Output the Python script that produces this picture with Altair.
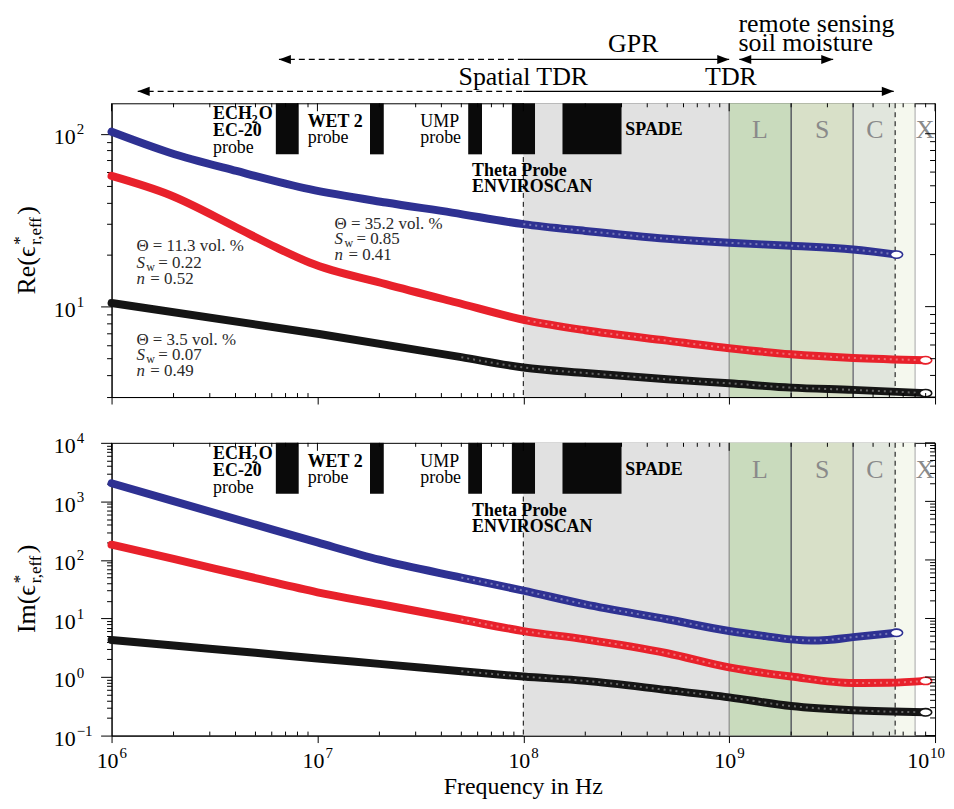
import altair as alt
import pandas as pd

FONT = "Liberation Serif"
W = 827
H_TOP = 295
H_BOT = 294

# ---------------- data ----------------
series = ["35.2", "11.3", "3.5"]
series_colors = ["#2e3192", "#e8212b", "#151515"]

blue_re_f = [1e6, 1.92e6, 4.04e6, 9.14e6, 2.15e7, 4.51e7, 1e8, 2e8, 5e8, 1e9, 2e9, 4e9, 6.5e9]
blue_re_v = [102.7, 77.7, 60.9, 47.8, 40.0, 35.0, 30.0, 27.4, 24.7, 23.4, 22.5, 21.4, 20.0]
red_re_f = [1e6, 1.92e6, 4.04e6, 6.3e6, 9.14e6, 2.15e7, 4.68e7, 1.05e8, 2e8, 5e8, 1e9, 2e9, 4e9, 9e9]
red_re_v = [57.0, 44.2, 28.7, 22.0, 18.0, 13.5, 10.6, 8.3, 7.3, 6.36, 5.75, 5.3, 5.05, 4.9]
black_re_f = [1e6, 1.02e7, 5e7, 1e8, 2e8, 5e8, 1e9, 2e9, 4e9, 9e9]
black_re_v = [10.5, 6.95, 5.1, 4.45, 4.13, 3.8, 3.6, 3.4, 3.3, 3.16]

blue_im_f = [1e6, 2e6, 5e6, 1e7, 2e7, 5e7, 1e8, 2e8, 5e8, 1e9, 1.5e9, 2e9, 2.5e9, 3e9, 4e9, 6.5e9]
blue_im_v = [2040, 1010, 400, 199, 101, 50, 30, 17.4, 9.7, 6.1, 5.0, 4.4, 4.2, 4.3, 4.8, 5.7]
red_im_f = [1e6, 2e6, 5e6, 1e7, 2e7, 5e7, 1e8, 2e8, 5e8, 1e9, 2e9, 4e9, 6e9, 9e9]
red_im_v = [182, 104, 49, 28, 17.7, 9.6, 6.1, 4.4, 2.55, 1.46, 1.02, 0.79, 0.8, 0.86]
black_im_f = [1e6, 2e6, 5e6, 1e7, 2e7, 5e7, 1e8, 2e8, 5e8, 1e9, 2e9, 4e9, 9e9]
black_im_v = [4.3, 3.45, 2.6, 2.07, 1.68, 1.26, 1.02, 0.86, 0.6, 0.45, 0.32, 0.27, 0.25]

# frequency bands (gray = TDR range, L, S, C band, rest of C band)
band_lo = [1e8, 1e9, 2e9, 4e9, 6.4e9]
band_hi = [1e9, 2e9, 4e9, 6.4e9, 8e9]
band_fill = ["#e1e1e1", "#c9dbbd", "#d8e0c8", "#e1e6dd", "#f5f8ee"]
edge_f = [1e9, 2e9, 4e9, 8e9]
edge_col = ["#8c8c8c", "#3a3a48", "#5a5a66", "#b4b4b4"]
dashed_f = [1e8, 6.4e9]
band_label = ["L", "S", "C", "X"]
band_label_f = [1.41e9, 2.83e9, 5.1e9, 8.95e9]
band_label_re = 105
band_label_im = 3436

# probe frequency bars
probe_lo = [6.28e6, 1.8e7, 5.4e7, 8.8e7, 1.55e8]
probe_hi = [8.11e6, 2.1e7, 6.3e7, 1.14e8, 3.0e8]
bar_re = [76, 150]
bar_im = [1350, 1e4]

probe_text = ["ECH", "EC-20", "probe", "WET 2", "probe", "UMP", "probe",
              "Theta Probe", "ENVIROSCAN", "SPADE"]
probe_bold = [True, True, False, True, False, False, False, True, True, True]
probe_f = [3.11e6, 3.11e6, 3.11e6, 8.97e6, 8.97e6, 3.16e7, 3.16e7, 5.64e7, 5.64e7, 3.13e8]
probe_re = [130, 103.6, 82.7, 116.8, 94.4, 116.8, 94.4, 60.9, 49.3, 105]
probe_im = [6427, 3305, 1700, 4700, 2513, 4700, 2513, 689, 368, 3436]
ech_sub = "2"
ech_tail = "O"

# sample annotations (upper panel)
ann_theta = ["Θ = 11.3 vol. %", "Θ = 3.5 vol. %", "Θ = 35.2 vol. %"]
ann_sw = ["= 0.22", "= 0.07", "= 0.85"]
ann_n = ["= 0.52", "= 0.49", "= 0.41"]
ann_f = [1.32e6, 1.32e6, 1.21e7]
ann_y_theta = [22.5, 6.45, 30.1]
ann_y_sw = [17.9, 5.22, 24.7]
ann_y_n = [14.5, 4.27, 19.95]

# method ranges (arrows on top)
arrow_spatial_tdr = [1.34e6, 1e8]
arrow_tdr = [1e8, 6.3e9]
arrow_gpr_dashed = [6.5e6, 1e8]
arrow_gpr = [1e8, 1e9]
arrow_remote = [1.12e9, 3.2e9]

# tick labels
x_dec = [1e6, 1e7, 1e8, 1e9]
x_sup = ["6", "7", "8", "9"]
x_last = [1e10]
x_last_sup = ["10"]
re_dec = [10, 100]
re_sup = ["1", "2"]
im_dec = [0.1, 1, 10, 100, 1000, 10000]
im_sup = ["−1", "0", "1", "2", "3", "4"]

x_major = [1e6, 1e7, 1e8, 1e9, 1e10]
x_minor = [m * 10 ** e for e in range(6, 10) for m in range(2, 10)]
re_major = [10, 100]
re_minor = [3, 4, 5, 6, 7, 8, 9] + [m * 10 for m in range(2, 10)]
im_major = [0.1, 1, 10, 100, 1000, 10000]
im_minor = [m * 10.0 ** e for e in range(-1, 4) for m in range(2, 10)]

# ---------------- helpers ----------------
MAJOR = "abs(log(datum.value)/LN10 - round(log(datum.value)/LN10)) < 0.001"
x_scale = alt.Scale(type="log", domain=[1e6, 1e10], nice=False)
re_scale = alt.Scale(type="log", domain=[3, 150], nice=False)
im_scale = alt.Scale(type="log", domain=[0.1, 1e4], nice=False)
color_scale = alt.Scale(domain=series, range=series_colors)


def line_df(fs, vs):
    rows = []
    for s, f, v in zip(series, fs, vs):
        for a, b in zip(f, v):
            rows.append({"f": a, "v": b, "s": s})
    return pd.DataFrame(rows)


def panel(kind):
    is_re = kind == "re"
    H = H_TOP if is_re else H_BOT
    ysc = re_scale if is_re else im_scale
    ymaj, ymin = (re_major, re_minor) if is_re else (im_major, im_minor)
    xax = alt.Axis(values=x_major, labels=False, grid=False, title=None, tickSize=7,
                   tickColor="black", domainColor="black", tickWidth=1, domainWidth=1)
    yax = alt.Axis(values=ymaj + ymin, labels=False, grid=False, title=None,
                   tickSize={"condition": {"test": MAJOR, "value": 11}, "value": 5},
                   tickColor="black", domainColor="black", tickWidth=1, domainWidth=1)

    def X(field):
        return alt.X(field, type="quantitative", scale=x_scale, axis=xax)

    def Y(field):
        return alt.Y(field, type="quantitative", scale=ysc, axis=yax)

    layers = []
    bands = pd.DataFrame({"lo": band_lo, "hi": band_hi, "c": band_fill})
    layers.append(alt.Chart(bands).mark_rect().encode(
        x=X("lo"), x2="hi", color=alt.Color("c:N", scale=None)))
    edges = pd.DataFrame({"f": edge_f, "c": edge_col})
    layers.append(alt.Chart(edges).mark_rule(strokeWidth=1.2).encode(
        x=X("f"), color=alt.Color("c:N", scale=None)))
    layers.append(alt.Chart(pd.DataFrame({"f": dashed_f})).mark_rule(
        color="black", strokeWidth=1, strokeDash=[5, 4]).encode(x=X("f")))

    bl, bh = (bar_re if is_re else bar_im)
    bars = pd.DataFrame({"lo": probe_lo, "hi": probe_hi,
                         "ylo": [bl] * len(probe_lo), "yhi": [bh] * len(probe_lo)})
    layers.append(alt.Chart(bars).mark_rect(color="#0a0a0a").encode(
        x=X("lo"), x2="hi", y=Y("ylo"), y2="yhi"))

    if is_re:
        df = line_df([blue_re_f, red_re_f, black_re_f], [blue_re_v, red_re_v, black_re_v])
    else:
        df = line_df([blue_im_f, red_im_f, black_im_f], [blue_im_v, red_im_v, black_im_v])
    layers.append(alt.Chart(df).mark_line(strokeWidth=8, strokeCap="round",
                                          interpolate="monotone").encode(
        x=X("f"), y=Y("v"), color=alt.Color("s:N", scale=color_scale, legend=None),
        detail="s:N"))
    # open-marker texture in the measured high-frequency part
    layers.append(alt.Chart(df).transform_filter("datum.f >= 5e7").mark_line(
        strokeWidth=2, interpolate="monotone", color="white", opacity=0.35,
        strokeDash=[2, 4]).encode(x=X("f"), y=Y("v"), detail="s:N"))
    ends = df.groupby("s", as_index=False).last()
    layers.append(alt.Chart(ends).mark_point(
        shape="M-1,0 A1,0.6 0 1,1 1,0 A1,0.6 0 1,1 -1,0 Z", size=150,
        fill="white", fillOpacity=1, strokeWidth=1.6, opacity=1).encode(
        x=X("f"), y=Y("v"), stroke=alt.Stroke("s:N", scale=color_scale, legend=None)))

    ptxt = pd.DataFrame({"t": probe_text, "f": probe_f, "y": probe_re if is_re else probe_im,
                         "b": probe_bold})
    for bold in (True, False):
        layers.append(alt.Chart(ptxt).transform_filter(
            "datum.b" if bold else "!datum.b").mark_text(
            font=FONT, fontSize=18, fontWeight="bold" if bold else "normal",
            align="left", baseline="middle", color="black").encode(
            x=X("f"), y=Y("y"), text="t:N"))
    # subscript and tail of "ECH2O"
    ech = pd.DataFrame({"f": [probe_f[0]], "y": [probe_re[0] if is_re else probe_im[0]]})
    layers.append(alt.Chart(ech).mark_text(
        text=ech_sub, font=FONT, fontSize=12, fontWeight="bold", align="left",
        baseline="middle", dx=39, dy=5, color="black").encode(x=X("f"), y=Y("y")))
    layers.append(alt.Chart(ech).mark_text(
        text=ech_tail, font=FONT, fontSize=18, fontWeight="bold", align="left",
        baseline="middle", dx=46, color="black").encode(x=X("f"), y=Y("y")))

    btxt = pd.DataFrame({"t": band_label, "f": band_label_f,
                         "y": [band_label_re if is_re else band_label_im] * len(band_label)})
    layers.append(alt.Chart(btxt).mark_text(
        font=FONT, fontSize=26, align="center", baseline="middle", color="#8a8a8a").encode(
        x=X("f"), y=Y("y"), text="t:N"))

    if is_re:
        ann = pd.DataFrame({"f": ann_f, "th": ann_theta, "sw": ann_sw, "n": ann_n,
                            "yt": ann_y_theta, "ys": ann_y_sw, "yn": ann_y_n})
        common = dict(font=FONT, fontSize=17, align="left", baseline="middle", color="#2a2a2a")
        a = alt.Chart(ann)
        layers.append(a.mark_text(**common).encode(x=X("f"), y=Y("yt"), text="th:N"))
        layers.append(a.mark_text(fontStyle="italic", **common).encode(
            x=X("f"), y=Y("ys"), text=alt.value("S")))
        layers.append(a.mark_text(font=FONT, fontSize=12, align="left", baseline="middle",
                                  color="#2a2a2a", dx=10, dy=4).encode(
            x=X("f"), y=Y("ys"), text=alt.value("w")))
        layers.append(a.mark_text(dx=22, **common).encode(x=X("f"), y=Y("ys"), text="sw:N"))
        layers.append(a.mark_text(fontStyle="italic", **common).encode(
            x=X("f"), y=Y("yn"), text=alt.value("n")))
        layers.append(a.mark_text(dx=14, **common).encode(x=X("f"), y=Y("yn"), text="n:N"))

    # minor x ticks pointing inward (bottom), mirrored ticks on top and right edges
    tk = dict(color="black", strokeWidth=1)
    xmin_df = pd.DataFrame({"f": x_minor})
    xmaj_df = pd.DataFrame({"f": x_major})
    layers.append(alt.Chart(xmin_df).mark_rule(**tk).encode(
        x=X("f"), y=alt.value(H - 4), y2=alt.value(H)))
    layers.append(alt.Chart(xmin_df).mark_rule(**tk).encode(
        x=X("f"), y=alt.value(0), y2=alt.value(4)))
    layers.append(alt.Chart(xmaj_df).mark_rule(**tk).encode(
        x=X("f"), y=alt.value(0), y2=alt.value(8)))
    layers.append(alt.Chart(pd.DataFrame({"v": ymin})).mark_rule(**tk).encode(
        y=Y("v"), x=alt.value(W - 5), x2=alt.value(W)))
    layers.append(alt.Chart(pd.DataFrame({"v": ymaj})).mark_rule(**tk).encode(
        y=Y("v"), x=alt.value(W - 10), x2=alt.value(W)))

    # y tick labels
    dec, sup = (re_dec, re_sup) if is_re else (im_dec, im_sup)
    ydf = pd.DataFrame({"v": dec, "s": sup})
    layers.append(alt.Chart(ydf).mark_text(
        font=FONT, fontSize=22, align="right", baseline="alphabetic", dy=10.5,
        color="black").encode(x=alt.value(-36), y=Y("v"), text=alt.value("10")))
    layers.append(alt.Chart(ydf).mark_text(
        font=FONT, fontSize=15, align="left", baseline="alphabetic", dy=0.5,
        color="black").encode(x=alt.value(-35), y=Y("v"), text="s:N"))

    # x tick labels and x title (lower panel only)
    if not is_re:
        for vals, sups, d1 in ((x_dec, x_sup, 7), (x_last, x_last_sup, -6)):
            xdf = pd.DataFrame({"f": vals, "s": sups})
            layers.append(alt.Chart(xdf).mark_text(
                font=FONT, fontSize=22, align="right", baseline="alphabetic", dx=d1,
                color="black").encode(x=X("f"), y=alt.value(H + 33), text=alt.value("10")))
            layers.append(alt.Chart(xdf).mark_text(
                font=FONT, fontSize=15, align="left", baseline="alphabetic", dx=d1 + 1,
                color="black").encode(x=X("f"), y=alt.value(H + 23), text="s:N"))
        layers.append(alt.Chart(pd.DataFrame({"f": [1e8]})).mark_text(
            text="Frequency in Hz", font=FONT, fontSize=24, align="center",
            baseline="alphabetic", color="black").encode(x=X("f"), y=alt.value(H + 59)))

    # y axis title, composed of pieces
    one = alt.Chart(pd.DataFrame({"k": [0]}))
    tcommon = dict(font=FONT, angle=270, align="left", baseline="alphabetic", color="black")
    main = "Re(ϵ" if is_re else "Im(ϵ"
    py = 192 if is_re else 191
    layers.append(one.mark_text(text=main, fontSize=26, **tcommon).encode(
        x=alt.value(-77), y=alt.value(py)))
    layers.append(one.mark_text(text="*", fontSize=17, dx=50, dy=-10, **tcommon).encode(
        x=alt.value(-77), y=alt.value(py)))
    layers.append(one.mark_text(text="r,eff", fontSize=17, dx=50, dy=6, **tcommon).encode(
        x=alt.value(-77), y=alt.value(py)))
    layers.append(one.mark_text(text=")", fontSize=26, dx=80, **tcommon).encode(
        x=alt.value(-77), y=alt.value(py)))

    # method arrows and labels above upper panel
    if is_re:
        def hline(rng, py, dash=None):
            kw = {"strokeDash": dash} if dash else {}
            return alt.Chart(pd.DataFrame({"a": [rng[0]], "b": [rng[1]]})).mark_rule(
                color="black", strokeWidth=1.3, **kw).encode(
                x=X("a"), x2="b", y=alt.value(py))

        layers.append(hline(arrow_spatial_tdr, -12, [6, 4]))
        layers.append(hline(arrow_tdr, -12))
        layers.append(hline(arrow_gpr_dashed, -44, [6, 4]))
        layers.append(hline(arrow_gpr, -44))
        layers.append(hline(arrow_remote, -44))

        left_head = "M0,0 L1,-0.38 L1,0.38 Z"
        right_head = "M0,0 L-1,-0.38 L-1,0.38 Z"

        def heads(fs, shape, py):
            return alt.Chart(pd.DataFrame({"f": fs})).mark_point(
                shape=shape, size=576, filled=True, color="black", opacity=1,
                strokeWidth=0).encode(x=X("f"), y=alt.value(py))

        layers.append(heads([arrow_spatial_tdr[0]], left_head, -12))
        layers.append(heads([arrow_tdr[1]], right_head, -12))
        layers.append(heads([arrow_gpr_dashed[0], arrow_remote[0]], left_head, -44))
        layers.append(heads([arrow_gpr[1], arrow_remote[1]], right_head, -44))

        def label(txt, f, py, align):
            return alt.Chart(pd.DataFrame({"f": [f]})).mark_text(
                text=txt, font=FONT, fontSize=26, align=align, baseline="alphabetic",
                color="black").encode(x=X("f"), y=alt.value(py))

        layers.append(label("Spatial TDR", 1e8, -18, "center"))
        layers.append(label("TDR", 1.02e9, -18, "center"))
        layers.append(label("GPR", 3.42e8, -52, "center"))
        layers.append(label("remote sensing", 1.11e9, -72, "left"))
        layers.append(label("soil moisture", 1.11e9, -53, "left"))

    return alt.layer(*layers).properties(width=W, height=H)


chart = alt.vconcat(panel("re"), panel("im"), spacing=46, bounds="flush").properties(
    padding={"left": 2, "top": 0, "right": 0, "bottom": 0}
).configure(background="white").configure_view(stroke="black", strokeWidth=1)

chart.save("out.html", embed_options={"renderer": "svg", "actions": False})
